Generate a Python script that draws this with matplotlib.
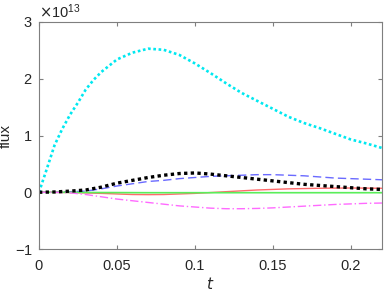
import numpy as np
import matplotlib
matplotlib.use('Agg')
import matplotlib.pyplot as plt
from matplotlib.ticker import ScalarFormatter

plt.rcParams['font.family'] = ['Liberation Sans', 'DejaVu Sans']

# values in units of 1e13
t_cyan = [0, 0.005, 0.01, 0.015, 0.02, 0.025, 0.03, 0.035, 0.04, 0.05, 0.06, 0.07, 0.08, 0.09,
          0.10, 0.11, 0.12, 0.13, 0.14, 0.15, 0.16, 0.17, 0.18, 0.19, 0.20, 0.21, 0.22]
cyan = [0, 0.41, 0.83, 1.12, 1.37, 1.58, 1.81, 1.98, 2.12, 2.34, 2.46, 2.53, 2.51, 2.42,
        2.27, 2.10, 1.92, 1.75, 1.61, 1.47, 1.33, 1.22, 1.13, 1.03, 0.93, 0.86, 0.78]

t = [0, 0.01, 0.02, 0.03, 0.04, 0.05, 0.06, 0.07, 0.08, 0.09, 0.10, 0.11,
     0.12, 0.13, 0.14, 0.15, 0.16, 0.17, 0.18, 0.19, 0.20, 0.21, 0.22]
black = [0, 0.005, 0.02, 0.04, 0.09, 0.16, 0.21, 0.26, 0.30, 0.33, 0.34, 0.32,
         0.29, 0.26, 0.23, 0.20, 0.17, 0.14, 0.12, 0.10, 0.08, 0.06, 0.05]
blue = [0, 0.0, 0.01, 0.02, 0.06, 0.11, 0.15, 0.19, 0.21, 0.24, 0.26, 0.28,
        0.29, 0.30, 0.31, 0.31, 0.30, 0.29, 0.27, 0.25, 0.24, 0.23, 0.22]
red = [0, -0.002, -0.005, -0.012, -0.02, -0.03, -0.04, -0.042, -0.04, -0.03, -0.02, -0.005,
       0.01, 0.025, 0.04, 0.05, 0.06, 0.065, 0.07, 0.073, 0.075, 0.073, 0.07]
green = [0, 0, -0.002, -0.004, -0.005, -0.006, -0.007, -0.008, -0.008, -0.008, -0.008, -0.008,
         -0.008, -0.008, -0.008, -0.008, -0.008, -0.008, -0.008, -0.008, -0.008, -0.008, -0.008]
magenta = [0, 0, -0.01, -0.04, -0.08, -0.12, -0.15, -0.18, -0.21, -0.24, -0.26, -0.28,
           -0.29, -0.29, -0.285, -0.275, -0.26, -0.245, -0.23, -0.215, -0.205, -0.195, -0.19]

scale = 1e13

fig = plt.figure(figsize=(3.86, 2.91), dpi=100)
ax = fig.add_axes([0.101, 0.1443, 0.8886, 0.7801])

ax.plot(t_cyan, np.array(cyan) * scale, color='#00e8f0', ls=(0, (1, 1)), lw=1.9)
ax.plot(t, np.array(blue) * scale, color='#6a6aff', ls=(0, (6, 3)), lw=1.0)
ax.plot(t, np.array(red) * scale, color='#ff6a6a', ls='-', lw=1.0)
ax.plot(t, np.array(green) * scale, color='#5aee5a', ls='-', lw=1.2)
ax.plot(t, np.array(magenta) * scale, color='#ff6aff', ls=(0, (6, 2, 1, 2)), lw=1.0)
ax.plot(t, np.array(black) * scale, color='black', ls=(0, (1, 1)), lw=2.4)

ax.set_xlim(0, 0.22)
ax.set_ylim(-1e13, 3e13)
ax.set_xticks([0, 0.05, 0.1, 0.15, 0.2])
ax.set_xticklabels(['0', '0.05', '0.1', '0.15', '0.2'])
ax.set_yticks([-1e13, 0, 1e13, 2e13, 3e13])

fmt = ScalarFormatter(useMathText=True)
fmt.set_powerlimits((0, 0))
ax.yaxis.set_major_formatter(fmt)

for s in ax.spines.values():
    s.set_color('#7f7f7f')
    s.set_linewidth(0.8)
ax.tick_params(direction='in', length=3, width=0.8, color='#7f7f7f',
               labelsize=10.5, labelcolor='#262626', top=True, right=True)
ax.tick_params(axis='x', pad=7)
ax.tick_params(axis='y', pad=4.5)
ax.yaxis.get_offset_text().set_fontsize(10.5)
ax.yaxis.get_offset_text().set_color('#262626')

ax.set_xlabel('$t$', fontsize=11, color='#262626', labelpad=2)
ax.set_ylabel('flux', fontsize=11, color='#262626')
ax.yaxis.set_label_coords(-0.076, 0.5)

plt.savefig('out.png', dpi=100)
